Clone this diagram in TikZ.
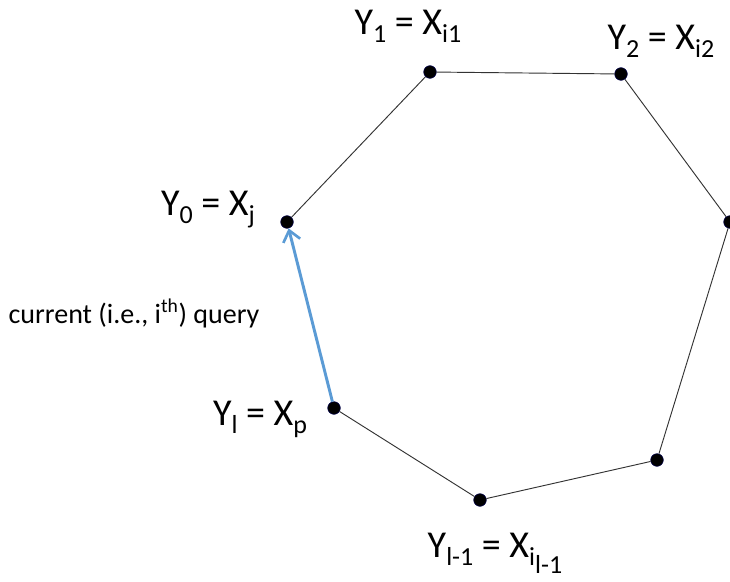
\documentclass[tikz,border=0pt]{standalone}
\usepackage{fontspec}
\setmainfont{Carlito}
\usetikzlibrary{arrows.meta,positioning}

\newcommand{\lowidx}[1]{\raisebox{-6pt}{\fontsize{19.5}{21}\selectfont #1}}

\begin{document}
\begin{tikzpicture}[
  x=0.75pt, y=-0.75pt,
  vtx/.style={circle, fill=black, draw=black!70!blue, line width=0.4pt,
              inner sep=0pt, minimum size=9.5pt},
  lbl/.style={font=\fontsize{28.5}{31}\selectfont, inner sep=0pt, anchor=base},
  edge/.style={draw=black!80, line width=0.7pt},
  query/.style={draw={rgb,255:red,91;green,155;blue,213}, line width=2.2pt,
                -{Straight Barb[length=8pt,width=13pt,line width=2pt]}},
  >={Stealth[length=2mm]}]
  \useasboundingbox (0,0) rectangle (730,581);
  % polygon vertices
  \node[vtx] (y0) at (287,222) {};
  \node[vtx] (y1) at (430,72) {};
  \node[vtx] (y2) at (621,74) {};
  \node[vtx] (y3) at (730,222) {};
  \node[vtx] (ym2) at (657,460) {};
  \node[vtx] (ym1) at (480,500) {};
  \node[vtx] (yl) at (334,408) {};
  % labels
  \node[lbl] (l0) at (208,215) {Y\lowidx{0} = X\lowidx{j}};
  \node[lbl] (l1) at (408,35) {Y\lowidx{1} = X\lowidx{i1}};
  \node[lbl] (l2) at (661,50) {Y\lowidx{2} = X\lowidx{i2}};
  \node[lbl] (ll) at (260,425) {Y\lowidx{l} = X\lowidx{p}};
  \node[lbl] (llm) at (495,557) {Y\lowidx{l-1} = X\lowidx{i\lowidx{l-1}}};
  \node[font=\fontsize{21}{24}\selectfont, inner sep=0pt, anchor=base] (cur)
      at (134,323) {current (i.e., i\textsuperscript{th}) query};
  % edges
  \draw[edge] (y0) -- (y1);
  \draw[edge] (y1) -- (y2);
  \draw[edge] (y2) -- (y3);
  \draw[edge] (y3) -- (ym2);
  \draw[edge] (ym2) -- (ym1);
  \draw[edge] (ym1) -- (yl);
  \draw[query] (yl) -- (y0);
\end{tikzpicture}
\end{document}
